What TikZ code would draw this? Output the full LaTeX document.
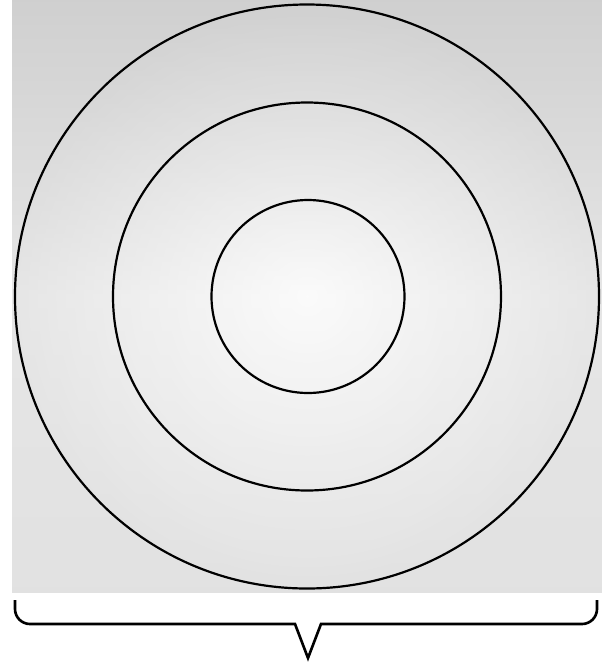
\documentclass[tikz,border=0pt]{standalone}
\usepackage{tikz}
\begin{document}
\begin{tikzpicture}[x=0.02cm,y=-0.02cm]
\useasboundingbox (0,0) rectangle (602,664);
% foil sheet
\fill[gray!30] (12,0) rectangle (602,592);
\shade[inner color=gray!5,outer color=gray!30] (12,0) rectangle (602,592);
\shade[top color=gray!50,bottom color=gray!10,middle color=white,opacity=.35] (12,0) rectangle (602,592);
% rings
\draw[line width=1.25pt] (307,296.5) circle(292);
\draw[line width=1.25pt] (307,296.5) circle(194);
\draw[line width=1.25pt] (308,296.5) circle(96.5);
% brace
\draw[line width=1.5pt,line join=miter] (15,600) [rounded corners=0.3cm] -- (15,624) [sharp corners] -- (295,624) -- (308,658) -- (321,624) [rounded corners=0.3cm] -- (597,624) [sharp corners] -- (597,600);
\end{tikzpicture}
\end{document}
